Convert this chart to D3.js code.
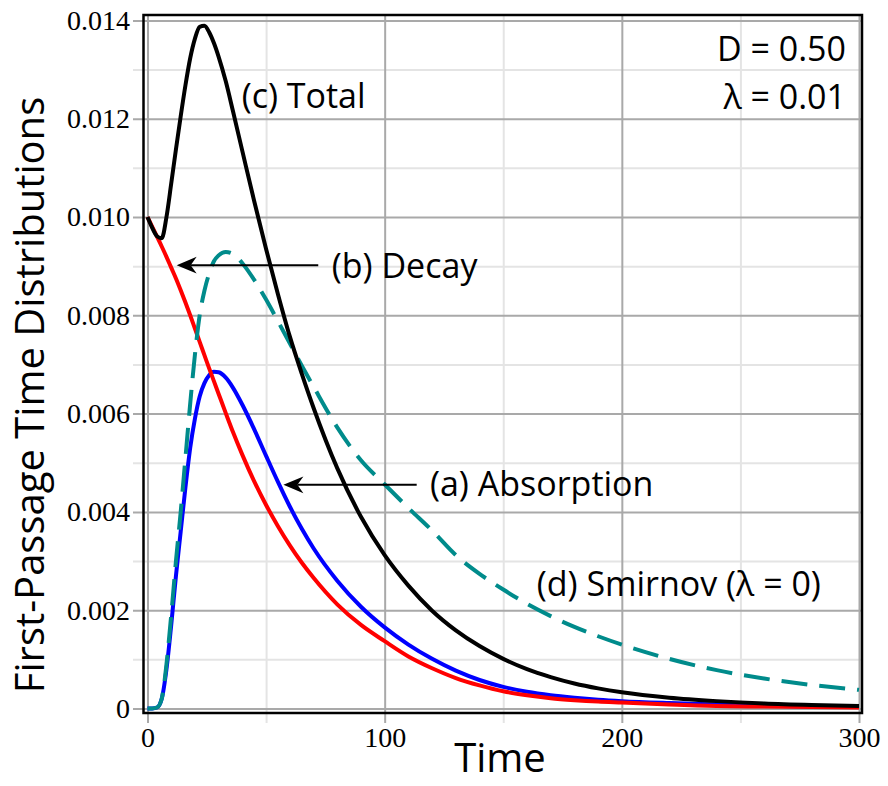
<!DOCTYPE html>
<html><head><meta charset="utf-8">
<script src="https://cdn.jsdelivr.net/npm/d3@7"></script>
<style>body{margin:0;background:#fff}svg{display:block}</style>
</head><body>
<svg id="chart" width="888" height="786"></svg>
<script>
// ---- data ----
const time = [0,2,4,6,8,10,12,14,16,18,20,22,24,26,28,30,33,36,40,45,50,55,60,65,70,80,90,100,110,120,130,140,150,160,170,180,190,200,220,240,260,280,300];
const absorption = [0,0,0.00002,0.0002,0.0008,0.0017,0.0027,0.0036,0.0045,0.0053,0.0059,0.00635,0.00662,0.00678,0.00685,0.00684,0.00673,0.00653,0.00618,0.00568,0.00514,0.00461,0.00411,0.00366,0.00326,0.0026,0.00207,0.00165,0.0013,0.00101,0.00077,0.00058,0.00044,0.00034,0.00027,0.00022,0.00018,0.00015,0.00011,0.00008,0.00006,0.00004,0.00003];
const decay = [0.0100,0.0098,0.0096,0.0094,0.00919,0.00897,0.00875,0.00851,0.00826,0.008,0.00773,0.00746,0.00719,0.00692,0.00666,0.0064,0.00601,0.00563,0.00516,0.00462,0.00414,0.00371,0.00332,0.00297,0.00266,0.00212,0.0017,0.00137,0.00106,0.00082,0.00062,0.00047,0.00035,0.00027,0.00021,0.00017,0.00014,0.00012,0.00008,0.00005,0.00004,0.00003,0.00002];
const total = [0.0100,0.00978,0.00961,0.00957,0.0100,0.01068,0.01138,0.01205,0.01268,0.01323,0.01363,0.01387,0.01389,0.01376,0.01354,0.01326,0.01276,0.01216,0.01134,0.01032,0.00935,0.00843,0.00757,0.00682,0.00612,0.00489,0.0039,0.00312,0.0025,0.00199,0.00159,0.00127,0.00101,0.0008,0.00064,0.00051,0.00041,0.00033,0.00022,0.00015,0.0001,0.00007,0.00005];
const smirnov = [0,0,0.00002,0.0002,0.0009,0.0019,0.003,0.004,0.0051,0.0062,0.0072,0.008,0.0085,0.00885,0.0091,0.00922,0.00929,0.00925,0.00906,0.00872,0.00832,0.00788,0.00743,0.00698,0.00655,0.00572,0.00505,0.00456,0.00408,0.00362,0.00312,0.00274,0.00242,0.00213,0.00188,0.00166,0.00147,0.0013,0.00101,0.00078,0.00061,0.00048,0.00038];
const xTicks = [0,100,200,300];
const xMinor = [50,150,250];
const yTicks = [0,0.002,0.004,0.006,0.008,0.010,0.012,0.014];
const yTickLabels = ["0","0.002","0.004","0.006","0.008","0.010","0.012","0.014"];
const yMinor = [0.001,0.003,0.005,0.007,0.009,0.011,0.013];
const params = ["D = 0.50","λ = 0.01"];

// ---- layout ----
const svg = d3.select("#chart");
const frame = {left:143.5, right:862, top:15, bottom:713};
const x = d3.scaleLinear().domain([0,300]).range([147.5,859]);
const y = d3.scaleLinear().domain([0,0.014]).range([708.5,20.4]);
const sans = "'Open Sans', 'Noto Sans', sans-serif";
const serif = "'Liberation Serif', 'Times New Roman', serif";

svg.append("rect").attr("width",888).attr("height",786).attr("fill","#fff");

function styleGrid(g, color){
  g.select(".domain").remove();
  g.selectAll(".tick line").attr("stroke",color).attr("stroke-width",2);
}
// minor grids
svg.append("g").attr("transform",`translate(133,0)`)
  .call(d3.axisLeft(y).tickValues(yMinor).tickSize(-(frame.right-133)).tickFormat(""))
  .call(g=>styleGrid(g,"#e4e4e4"));
svg.append("g").attr("transform",`translate(0,${frame.top})`)
  .call(d3.axisBottom(x).tickValues(xMinor).tickSize(723-frame.top).tickFormat(""))
  .call(g=>styleGrid(g,"#e4e4e4"));
// major grids + labels
const yAx = svg.append("g").attr("transform",`translate(133,0)`)
  .call(d3.axisLeft(y).tickValues(yTicks).tickSize(-(frame.right-133)).tickPadding(3)
    .tickFormat((d,i)=>yTickLabels[i]))
  .call(g=>styleGrid(g,"#a9a9a9"));
yAx.selectAll("text").attr("font-family",serif).attr("font-size",28).attr("fill","#000");
const xAx = svg.append("g").attr("transform",`translate(0,${frame.top})`)
  .call(d3.axisBottom(x).tickValues(xTicks).tickSize(723-frame.top).tickPadding(4).tickFormat(d3.format("d")))
  .call(g=>styleGrid(g,"#a9a9a9"));
xAx.selectAll("text").attr("font-family",serif).attr("font-size",28).attr("fill","#000");

// ---- curves ----
const line = vals => d3.line().x((d,i)=>x(time[i])).y(d=>y(d)).curve(d3.curveMonotoneX)(vals);
svg.append("path").attr("d",line(absorption)).attr("fill","none").attr("stroke","#0000ff").attr("stroke-width",4);
svg.append("path").attr("d",line(decay)).attr("fill","none").attr("stroke","#ff0000").attr("stroke-width",4);
svg.append("path").attr("d",line(smirnov)).attr("fill","none").attr("stroke","#008b8b").attr("stroke-width",4).attr("stroke-dasharray","26,12");
svg.append("path").attr("d",line(total)).attr("fill","none").attr("stroke","#000").attr("stroke-width",4);

// frame
svg.append("rect").attr("x",frame.left).attr("y",frame.top)
  .attr("width",frame.right-frame.left).attr("height",frame.bottom-frame.top)
  .attr("fill","none").attr("stroke","#000").attr("stroke-width",2.5);

// ---- annotations ----
function arrow(t0,t1,v){
  const ty=y(v), tx=x(t1);
  svg.append("line").attr("x1",x(t0)).attr("x2",tx+14).attr("y1",ty).attr("y2",ty)
    .attr("stroke","#000").attr("stroke-width",2);
  svg.append("path").attr("d",`M${tx},${ty} L${tx+20},${ty-8.3} L${tx+14},${ty} L${tx+20},${ty+8.3} Z`).attr("fill","#000");
}
arrow(72,12.3,0.00902);
arrow(113.5,57.3,0.00455);

function label(txt,t,v,anchor){
  svg.append("text").attr("x",x(t)).attr("y",y(v)).attr("text-anchor",anchor||"start")
    .attr("font-family",sans).attr("font-size",34).attr("fill","#000").text(txt);
}
label("(c) Total",39.7,0.01222);
label("(b) Decay",77.7,0.00875);
label("(a) Absorption",119.1,0.00432);
label("(d) Smirnov (λ = 0)",164.1,0.00228);
label(params[0],294.5,0.01317,"end");
label(params[1],294.5,0.0122,"end");

// axis titles
svg.append("text").attr("x",500).attr("y",772).attr("text-anchor","middle")
  .attr("font-family",sans).attr("font-size",40).attr("fill","#000").text("Time");
svg.append("text").attr("transform","translate(44,395) rotate(-90)").attr("text-anchor","middle")
  .attr("font-family",sans).attr("font-size",40).attr("fill","#000").text("First-Passage Time Distributions");
</script>
</body></html>
